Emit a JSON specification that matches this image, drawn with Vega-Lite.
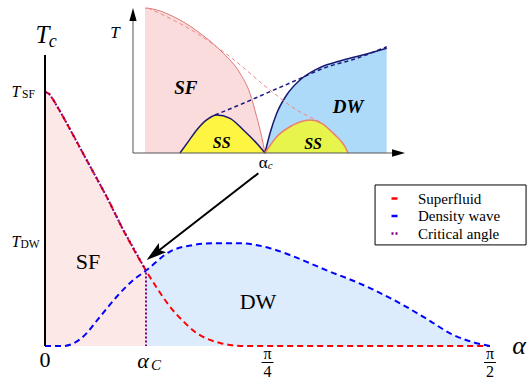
{
  "$schema": "https://vega.github.io/schema/vega-lite/v6.json",
  "width": 463,
  "height": 342,
  "autosize": "none",
  "padding": {"left": 35, "top": 4, "right": 34, "bottom": 35},
  "config": {
    "view": {"stroke": null},
    "font": "Liberation Serif",
    "text": {"font": "Liberation Serif"},
    "legend": {"padding": 0, "labelFont": "Liberation Serif", "labelFontSize": 15, "labelOffset": 16, "symbolType": "stroke", "symbolSize": 36, "symbolStrokeWidth": 2.5, "rowPadding": 1.5, "labelLimit": 300}
  },
  "datasets": {
    "curves": [
      {"s": "Superfluid", "a": 0, "t": 1.0},
      {"s": "Superfluid", "a": 0.015, "t": 0.992},
      {"s": "Superfluid", "a": 0.03, "t": 0.968},
      {"s": "Superfluid", "a": 0.05, "t": 0.93},
      {"s": "Superfluid", "a": 0.0766, "t": 0.877},
      {"s": "Superfluid", "a": 0.12, "t": 0.788},
      {"s": "Superfluid", "a": 0.15, "t": 0.726},
      {"s": "Superfluid", "a": 0.18, "t": 0.665},
      {"s": "Superfluid", "a": 0.218, "t": 0.587},
      {"s": "Superfluid", "a": 0.276, "t": 0.457},
      {"s": "Superfluid", "a": 0.3565, "t": 0.297},
      {"s": "Superfluid", "a": 0.4, "t": 0.22},
      {"s": "Superfluid", "a": 0.441, "t": 0.155},
      {"s": "Superfluid", "a": 0.49, "t": 0.095},
      {"s": "Superfluid", "a": 0.535, "t": 0.051},
      {"s": "Superfluid", "a": 0.58, "t": 0.025},
      {"s": "Superfluid", "a": 0.618, "t": 0.012},
      {"s": "Superfluid", "a": 0.66, "t": 0.003},
      {"s": "Superfluid", "a": 0.7, "t": 0},
      {"s": "Superfluid", "a": 1.5708, "t": 0},
      {"s": "Density wave", "a": 0, "t": 0},
      {"s": "Density wave", "a": 0.0635, "t": 0},
      {"s": "Density wave", "a": 0.1, "t": 0.01},
      {"s": "Density wave", "a": 0.135, "t": 0.037},
      {"s": "Density wave", "a": 0.194, "t": 0.115},
      {"s": "Density wave", "a": 0.253, "t": 0.194},
      {"s": "Density wave", "a": 0.312, "t": 0.26},
      {"s": "Density wave", "a": 0.3565, "t": 0.297},
      {"s": "Density wave", "a": 0.441, "t": 0.372},
      {"s": "Density wave", "a": 0.52, "t": 0.397},
      {"s": "Density wave", "a": 0.6, "t": 0.405},
      {"s": "Density wave", "a": 0.68, "t": 0.405},
      {"s": "Density wave", "a": 0.794, "t": 0.385},
      {"s": "Density wave", "a": 0.865, "t": 0.358},
      {"s": "Density wave", "a": 0.935, "t": 0.326},
      {"s": "Density wave", "a": 1.006, "t": 0.2925},
      {"s": "Density wave", "a": 1.077, "t": 0.262},
      {"s": "Density wave", "a": 1.147, "t": 0.228},
      {"s": "Density wave", "a": 1.25, "t": 0.17},
      {"s": "Density wave", "a": 1.35, "t": 0.105},
      {"s": "Density wave", "a": 1.43, "t": 0.05},
      {"s": "Density wave", "a": 1.52, "t": 0.012},
      {"s": "Density wave", "a": 1.5708, "t": 0},
      {"s": "Critical angle", "a": 0, "t": 1.0},
      {"s": "Critical angle", "a": 0.015, "t": 0.992},
      {"s": "Critical angle", "a": 0.03, "t": 0.968},
      {"s": "Critical angle", "a": 0.05, "t": 0.93},
      {"s": "Critical angle", "a": 0.0766, "t": 0.877},
      {"s": "Critical angle", "a": 0.12, "t": 0.788},
      {"s": "Critical angle", "a": 0.15, "t": 0.726},
      {"s": "Critical angle", "a": 0.18, "t": 0.665},
      {"s": "Critical angle", "a": 0.218, "t": 0.587},
      {"s": "Critical angle", "a": 0.276, "t": 0.457},
      {"s": "Critical angle", "a": 0.3565, "t": 0.297},
      {"s": "Critical angle", "a": 0.3565, "t": 0}
    ],
    "inset": [
      {"part": "SF", "u": 0.0909, "v": 1.0},
      {"part": "SF", "u": 0.116, "v": 0.998},
      {"part": "SF", "u": 0.356, "v": 0.917},
      {"part": "SF", "u": 0.508, "v": 0.826},
      {"part": "SF", "u": 0.684, "v": 0.688},
      {"part": "SF", "u": 0.811, "v": 0.55},
      {"part": "SF", "u": 0.886, "v": 0.412},
      {"part": "SF", "u": 0.937, "v": 0.25},
      {"part": "SF", "u": 0.975, "v": 0.112},
      {"part": "SF", "u": 1.0, "v": 0},
      {"part": "DW", "u": 1.0, "v": 0},
      {"part": "DW", "u": 1.038, "v": 0.136},
      {"part": "DW", "u": 1.089, "v": 0.274},
      {"part": "DW", "u": 1.164, "v": 0.4},
      {"part": "DW", "u": 1.265, "v": 0.503},
      {"part": "DW", "u": 1.404, "v": 0.584},
      {"part": "DW", "u": 1.593, "v": 0.641},
      {"part": "DW", "u": 1.77, "v": 0.683},
      {"part": "DW", "u": 1.922, "v": 0.722},
      {"part": "SSL", "u": 0.356, "v": 0},
      {"part": "SSL", "u": 0.42, "v": 0.08},
      {"part": "SSL", "u": 0.483, "v": 0.159},
      {"part": "SSL", "u": 0.558, "v": 0.228},
      {"part": "SSL", "u": 0.634, "v": 0.262},
      {"part": "SSL", "u": 0.735, "v": 0.239},
      {"part": "SSL", "u": 0.836, "v": 0.159},
      {"part": "SSL", "u": 0.937, "v": 0.067},
      {"part": "SSL", "u": 1.0, "v": 0},
      {"part": "SSR", "u": 1.0, "v": 0},
      {"part": "SSR", "u": 1.089, "v": 0.112},
      {"part": "SSR", "u": 1.189, "v": 0.181},
      {"part": "SSR", "u": 1.341, "v": 0.228},
      {"part": "SSR", "u": 1.43, "v": 0.205},
      {"part": "SSR", "u": 1.517, "v": 0.136},
      {"part": "SSR", "u": 1.619, "v": 0.021},
      {"part": "SSR", "u": 1.629, "v": 0},
      {"part": "red", "u": 0.114, "v": 1.0},
      {"part": "red", "u": 0.483, "v": 0.826},
      {"part": "red", "u": 0.735, "v": 0.664},
      {"part": "red", "u": 1.038, "v": 0.434},
      {"part": "red", "u": 1.24, "v": 0.297},
      {"part": "red", "u": 1.417, "v": 0.216},
      {"part": "navy", "u": 0.621, "v": 0.262},
      {"part": "navy", "u": 0.836, "v": 0.343},
      {"part": "navy", "u": 1.038, "v": 0.423},
      {"part": "navy", "u": 1.24, "v": 0.503},
      {"part": "navy", "u": 1.442, "v": 0.584},
      {"part": "navy", "u": 1.695, "v": 0.653},
      {"part": "navy", "u": 1.922, "v": 0.733}
    ]
  },
  "resolve": {"scale": {"x": "independent", "y": "independent"}},
  "layer": [
    {
      "layer": [
        {"data": {"name": "curves"}, "transform": [{"filter": "datum.s == 'Superfluid' && datum.a <= 0.3566"}], "mark": {"type": "area", "color": "#fde8e8", "interpolate": "monotone"},
         "encoding": {
           "x": {"field": "a", "type": "quantitative", "scale": {"domain": [-0.0353, 1.599], "nice": false, "zero": false},
                 "axis": {"values": [0.7854, 1.5708], "labels": false, "title": null, "grid": false, "tickSize": 4, "tickColor": "black", "tickWidth": 1.5, "domainColor": "black", "domainWidth": 2}},
           "y": {"field": "t", "type": "quantitative", "scale": {"domain": [0, 1.3465], "nice": false, "zero": false}, "axis": null}}},
        {"data": {"name": "curves"}, "transform": [{"filter": "datum.s == 'Density wave' && datum.a >= 0.3564"}], "mark": {"type": "area", "color": "#dcecfc", "interpolate": "monotone"},
         "encoding": {
           "x": {"field": "a", "type": "quantitative", "scale": {"domain": [-0.0353, 1.599], "nice": false, "zero": false}, "axis": null},
           "y": {"field": "t", "type": "quantitative", "scale": {"domain": [0, 1.3465], "nice": false, "zero": false}, "axis": null}}},
        {"data": {"name": "curves"}, "transform": [{"filter": "datum.s != 'Critical angle'"}], "mark": {"type": "line", "strokeWidth": 2, "interpolate": "monotone"},
         "encoding": {
           "x": {"field": "a", "type": "quantitative", "scale": {"domain": [-0.0353, 1.599], "nice": false, "zero": false}, "axis": null},
           "y": {"field": "t", "type": "quantitative", "scale": {"domain": [0, 1.3465], "nice": false, "zero": false}, "axis": null},
           "color": {"field": "s", "type": "nominal", "scale": {"domain": ["Superfluid", "Density wave", "Critical angle"], "range": ["#ff0000", "#0000ff", "#800080"]},
                     "legend": {"orient": "none", "legendX": 352, "legendY": 187, "title": null}},
           "strokeDash": {"field": "s", "type": "nominal", "scale": {"domain": ["Superfluid", "Density wave", "Critical angle"], "range": [[6, 4], [6, 4], [2, 2]]},
                     "legend": {"orient": "none", "legendX": 352, "legendY": 187, "title": null}}
         }},
        {"data": {"name": "curves"}, "transform": [{"filter": "datum.s == 'Critical angle'"}], "mark": {"type": "line", "strokeWidth": 2, "interpolate": "linear"},
         "encoding": {
           "x": {"field": "a", "type": "quantitative", "scale": {"domain": [-0.0353, 1.599], "nice": false, "zero": false}, "axis": null},
           "y": {"field": "t", "type": "quantitative", "scale": {"domain": [0, 1.3465], "nice": false, "zero": false}, "axis": null},
           "color": {"field": "s", "type": "nominal", "legend": {"orient": "none", "legendX": 352, "legendY": 187, "title": null}},
           "strokeDash": {"field": "s", "type": "nominal", "legend": {"orient": "none", "legendX": 352, "legendY": 187, "title": null}},
           "order": [{"field": "a", "type": "quantitative"}, {"field": "t", "type": "quantitative", "sort": "descending"}]
         }},
        {"data": {"values": [{}]}, "mark": {"type": "rect", "fill": "white", "stroke": "black", "strokeWidth": 1},
         "encoding": {"x": {"datum": 1.165, "type": "quantitative", "axis": null}, "x2": {"datum": 1.698}, "y": {"datum": 0.634, "type": "quantitative", "axis": null}, "y2": {"datum": 0.398}}},
        {"data": {"values": [{}]}, "mark": {"type": "rule", "strokeWidth": 2, "color": "black"},
         "encoding": {"x": {"datum": 0, "type": "quantitative", "axis": null}, "y": {"datum": 0, "type": "quantitative", "axis": null}, "y2": {"datum": 1.146}}},
        {"data": {"values": [{}]}, "mark": {"type": "rule", "strokeWidth": 2, "color": "black"},
         "encoding": {"x": {"datum": 0.753, "type": "quantitative", "axis": null}, "y": {"datum": 0.68, "type": "quantitative", "axis": null}, "x2": {"datum": 0.4007}, "y2": {"datum": 0.3748}}},
        {"data": {"values": [{}]}, "mark": {"type": "point", "shape": "M0,0 L-0.3,1 L0,0.8 L0.3,1 Z", "filled": true, "color": "black", "opacity": 1, "size": 1600, "angle": 232.1, "strokeWidth": 0},
         "encoding": {"x": {"datum": 0.359, "type": "quantitative", "axis": null}, "y": {"datum": 0.339, "type": "quantitative", "axis": null}}},
        {"data": {"values": [{}]}, "mark": {"type": "rule", "strokeWidth": 1, "color": "black"},
         "encoding": {"x": {"datum": 0.7644, "type": "quantitative", "axis": null}, "x2": {"datum": 0.8064}, "y": {"datum": -0.065, "type": "quantitative", "axis": null}}},
        {"data": {"values": [{}]}, "mark": {"type": "rule", "strokeWidth": 1, "color": "black"},
         "encoding": {"x": {"datum": 1.5498, "type": "quantitative", "axis": null}, "x2": {"datum": 1.5918}, "y": {"datum": -0.065, "type": "quantitative", "axis": null}}},
        {"data": {"values": [{}]}, "mark": {"type": "text", "text": "SF", "fontSize": 22, "align": "center", "baseline": "middle"},
         "encoding": {"x": {"datum": 0.152, "type": "quantitative", "axis": null}, "y": {"datum": 0.331, "type": "quantitative", "axis": null}}},
        {"data": {"values": [{}]}, "mark": {"type": "text", "text": "DW", "fontSize": 22, "align": "center", "baseline": "middle"},
         "encoding": {"x": {"datum": 0.752, "type": "quantitative", "axis": null}, "y": {"datum": 0.173, "type": "quantitative", "axis": null}}},
        {"data": {"values": [{}]}, "mark": {"type": "text", "text": "0", "fontSize": 22, "align": "center", "baseline": "middle"},
         "encoding": {"x": {"datum": 0, "type": "quantitative", "axis": null}, "y": {"datum": -0.055, "type": "quantitative", "axis": null}}},
        {"data": {"values": [{}]}, "mark": {"type": "text", "text": "α", "fontSize": 22, "fontStyle": "italic", "align": "center", "baseline": "middle"},
         "encoding": {"x": {"datum": 0.346, "type": "quantitative", "axis": null}, "y": {"datum": -0.058, "type": "quantitative", "axis": null}}},
        {"data": {"values": [{}]}, "mark": {"type": "text", "text": "C", "fontSize": 15, "fontStyle": "italic", "align": "center", "baseline": "middle"},
         "encoding": {"x": {"datum": 0.392, "type": "quantitative", "axis": null}, "y": {"datum": -0.075, "type": "quantitative", "axis": null}}},
        {"data": {"values": [{}]}, "mark": {"type": "text", "text": "π", "fontSize": 16, "align": "center", "baseline": "middle"},
         "encoding": {"x": {"datum": 0.7854, "type": "quantitative", "axis": null}, "y": {"datum": -0.03, "type": "quantitative", "axis": null}}},
        {"data": {"values": [{}]}, "mark": {"type": "text", "text": "4", "fontSize": 16, "align": "center", "baseline": "middle"},
         "encoding": {"x": {"datum": 0.7854, "type": "quantitative", "axis": null}, "y": {"datum": -0.102, "type": "quantitative", "axis": null}}},
        {"data": {"values": [{}]}, "mark": {"type": "text", "text": "π", "fontSize": 16, "align": "center", "baseline": "middle"},
         "encoding": {"x": {"datum": 1.5708, "type": "quantitative", "axis": null}, "y": {"datum": -0.03, "type": "quantitative", "axis": null}}},
        {"data": {"values": [{}]}, "mark": {"type": "text", "text": "2", "fontSize": 16, "align": "center", "baseline": "middle"},
         "encoding": {"x": {"datum": 1.5708, "type": "quantitative", "axis": null}, "y": {"datum": -0.102, "type": "quantitative", "axis": null}}},
        {"data": {"values": [{}]}, "mark": {"type": "text", "text": "α", "fontSize": 26, "fontStyle": "italic", "align": "center", "baseline": "middle"},
         "encoding": {"x": {"datum": 1.673, "type": "quantitative", "axis": null}, "y": {"datum": 0.0, "type": "quantitative", "axis": null}}},
        {"data": {"values": [{}]}, "mark": {"type": "text", "text": "T", "fontSize": 25, "fontStyle": "italic", "align": "center", "baseline": "middle"},
         "encoding": {"x": {"datum": -0.0088, "type": "quantitative", "axis": null}, "y": {"datum": 1.2244, "type": "quantitative", "axis": null}}},
        {"data": {"values": [{}]}, "mark": {"type": "text", "text": "c", "fontSize": 18, "fontStyle": "italic", "align": "center", "baseline": "middle"},
         "encoding": {"x": {"datum": 0.0272, "type": "quantitative", "axis": null}, "y": {"datum": 1.195, "type": "quantitative", "axis": null}}},
        {"data": {"values": [{}]}, "mark": {"type": "text", "text": "T", "fontSize": 16, "fontStyle": "italic", "align": "center", "baseline": "middle"},
         "encoding": {"x": {"datum": -0.1024, "type": "quantitative", "axis": null}, "y": {"datum": 1.002, "type": "quantitative", "axis": null}}},
        {"data": {"values": [{}]}, "mark": {"type": "text", "text": "SF", "fontSize": 11.5, "align": "center", "baseline": "middle"},
         "encoding": {"x": {"datum": -0.0582, "type": "quantitative", "axis": null}, "y": {"datum": 0.99, "type": "quantitative", "axis": null}}},
        {"data": {"values": [{}]}, "mark": {"type": "text", "text": "T", "fontSize": 16, "fontStyle": "italic", "align": "center", "baseline": "middle"},
         "encoding": {"x": {"datum": -0.1024, "type": "quantitative", "axis": null}, "y": {"datum": 0.4075, "type": "quantitative", "axis": null}}},
        {"data": {"values": [{}]}, "mark": {"type": "text", "text": "DW", "fontSize": 11.5, "align": "center", "baseline": "middle"},
         "encoding": {"x": {"datum": -0.053, "type": "quantitative", "axis": null}, "y": {"datum": 0.396, "type": "quantitative", "axis": null}}}
      ]
    },
    {
      "layer": [
        {"data": {"name": "inset"}, "transform": [{"filter": "datum.part == 'SF'"}], "mark": {"type": "area", "color": "#f8cdcd", "interpolate": "monotone", "line": {"color": "#e07878", "strokeWidth": 1}},
         "encoding": {"x": {"field": "u", "type": "quantitative", "scale": {"domain": [-0.7424, 2.7652], "nice": false, "zero": false}, "axis": null},
                      "y": {"field": "v", "type": "quantitative", "scale": {"domain": [-1.331, 1.0276], "nice": false, "zero": false}, "axis": null}}},
        {"data": {"name": "inset"}, "transform": [{"filter": "datum.part == 'DW'"}], "mark": {"type": "area", "color": "#8ccbf8", "interpolate": "monotone", "line": {"color": "#1a1a70", "strokeWidth": 1.5}},
         "encoding": {"x": {"field": "u", "type": "quantitative", "axis": null}, "y": {"field": "v", "type": "quantitative", "axis": null}}},
        {"data": {"name": "inset"}, "transform": [{"filter": "datum.part == 'SSL'"}], "mark": {"type": "area", "color": "#ffff00", "interpolate": "monotone", "line": {"color": "#1a1a70", "strokeWidth": 1.5}},
         "encoding": {"x": {"field": "u", "type": "quantitative", "axis": null}, "y": {"field": "v", "type": "quantitative", "axis": null}}},
        {"data": {"name": "inset"}, "transform": [{"filter": "datum.part == 'SSR'"}], "mark": {"type": "area", "color": "#ffff00", "interpolate": "monotone", "line": {"color": "#e88070", "strokeWidth": 1.5}},
         "encoding": {"x": {"field": "u", "type": "quantitative", "axis": null}, "y": {"field": "v", "type": "quantitative", "axis": null}}},
        {"data": {"name": "inset"}, "transform": [{"filter": "datum.part == 'red'"}], "mark": {"type": "line", "color": "#ee8888", "strokeWidth": 1, "strokeDash": [4, 3], "interpolate": "monotone"},
         "encoding": {"x": {"field": "u", "type": "quantitative", "axis": null}, "y": {"field": "v", "type": "quantitative", "axis": null}}},
        {"data": {"name": "inset"}, "transform": [{"filter": "datum.part == 'navy'"}], "mark": {"type": "line", "color": "#1a1a80", "strokeWidth": 1.5, "strokeDash": [4, 3], "interpolate": "monotone"},
         "encoding": {"x": {"field": "u", "type": "quantitative", "axis": null}, "y": {"field": "v", "type": "quantitative", "axis": null}}},
        {"data": {"values": [{}]}, "mark": {"type": "rule", "strokeWidth": 1, "color": "#555555"},
         "encoding": {"x": {"datum": 0, "type": "quantitative", "axis": null}, "y": {"datum": 0, "type": "quantitative", "axis": null}, "y2": {"datum": 0.96}}},
        {"data": {"values": [{}]}, "mark": {"type": "rule", "strokeWidth": 1, "color": "#555555"},
         "encoding": {"x": {"datum": 0, "type": "quantitative", "axis": null}, "x2": {"datum": 1.99}, "y": {"datum": 0, "type": "quantitative", "axis": null}}},
        {"data": {"values": [{}]}, "mark": {"type": "point", "shape": "M0,0 L-0.28,1 L0.28,1 Z", "filled": true, "color": "black", "opacity": 1, "size": 676, "angle": 0, "strokeWidth": 0},
         "encoding": {"x": {"datum": 0, "type": "quantitative", "axis": null}, "y": {"datum": 1.0, "type": "quantitative", "axis": null}}},
        {"data": {"values": [{}]}, "mark": {"type": "point", "shape": "M0,0 L-0.28,1 L0.28,1 Z", "filled": true, "color": "black", "opacity": 1, "size": 676, "angle": 90, "strokeWidth": 0},
         "encoding": {"x": {"datum": 2.061, "type": "quantitative", "axis": null}, "y": {"datum": 0, "type": "quantitative", "axis": null}}},
        {"data": {"values": [{}]}, "mark": {"type": "text", "text": "T", "fontSize": 17, "fontStyle": "italic", "align": "center", "baseline": "middle"},
         "encoding": {"x": {"datum": -0.136, "type": "quantitative", "axis": null}, "y": {"datum": 0.826, "type": "quantitative", "axis": null}}},
        {"data": {"values": [{}]}, "mark": {"type": "text", "text": "SF", "fontSize": 19, "fontStyle": "italic", "fontWeight": "bold", "align": "center", "baseline": "middle"},
         "encoding": {"x": {"datum": 0.4, "type": "quantitative", "axis": null}, "y": {"datum": 0.446, "type": "quantitative", "axis": null}}},
        {"data": {"values": [{}]}, "mark": {"type": "text", "text": "SS", "fontSize": 16, "fontStyle": "italic", "fontWeight": "bold", "align": "center", "baseline": "middle"},
         "encoding": {"x": {"datum": 0.672, "type": "quantitative", "axis": null}, "y": {"datum": 0.067, "type": "quantitative", "axis": null}}},
        {"data": {"values": [{}]}, "mark": {"type": "text", "text": "SS", "fontSize": 16, "fontStyle": "italic", "fontWeight": "bold", "align": "center", "baseline": "middle"},
         "encoding": {"x": {"datum": 1.364, "type": "quantitative", "axis": null}, "y": {"datum": 0.06, "type": "quantitative", "axis": null}}},
        {"data": {"values": [{}]}, "mark": {"type": "text", "text": "DW", "fontSize": 19, "fontStyle": "italic", "fontWeight": "bold", "align": "center", "baseline": "middle"},
         "encoding": {"x": {"datum": 1.629, "type": "quantitative", "axis": null}, "y": {"datum": 0.319, "type": "quantitative", "axis": null}}},
        {"data": {"values": [{}]}, "mark": {"type": "text", "text": "α", "fontSize": 17, "align": "center", "baseline": "middle"},
         "encoding": {"x": {"datum": 0.987, "type": "quantitative", "axis": null}, "y": {"datum": -0.071, "type": "quantitative", "axis": null}}},
        {"data": {"values": [{}]}, "mark": {"type": "text", "text": "c", "fontSize": 11, "fontStyle": "italic", "align": "center", "baseline": "middle"},
         "encoding": {"x": {"datum": 1.04, "type": "quantitative", "axis": null}, "y": {"datum": -0.09, "type": "quantitative", "axis": null}}}
      ]
    }
  ]
}
